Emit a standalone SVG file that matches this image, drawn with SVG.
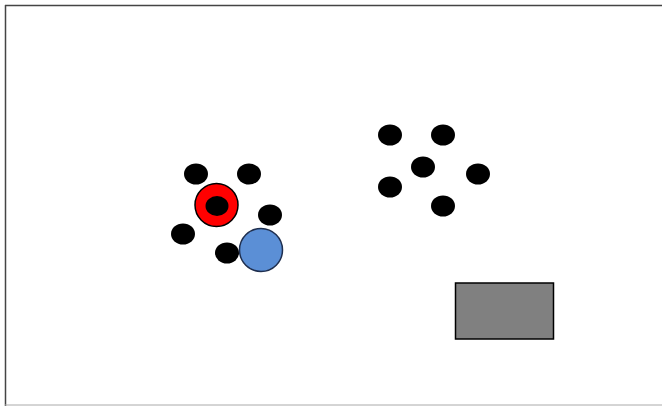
<svg xmlns="http://www.w3.org/2000/svg" width="662" height="406" viewBox="0 0 662 406">
<style>
.dot{fill:#000}
</style>
<rect x="0" y="0" width="662" height="406" fill="#fff"/>
<line x1="5" y1="5.5" x2="662" y2="5.5" stroke="#444" stroke-width="1.5"/>
<line x1="5.5" y1="5" x2="5.5" y2="406" stroke="#444" stroke-width="1.5"/>
<line x1="5" y1="405" x2="662" y2="405" stroke="#aaa" stroke-width="1"/>
<g id="left-cluster">
<ellipse class="dot" cx="196" cy="174" rx="12" ry="10.5"/>
<ellipse class="dot" cx="249" cy="174" rx="12" ry="10.5"/>
<ellipse class="dot" cx="270" cy="215" rx="12" ry="10.5"/>
<ellipse class="dot" cx="183" cy="234" rx="12" ry="10.5"/>
<ellipse class="dot" cx="227" cy="253" rx="12" ry="10.5"/>
</g>
<g id="red">
<circle cx="216.5" cy="205" r="21.5" fill="#ff0000" stroke="#000" stroke-width="1.5"/>
<ellipse class="dot" cx="217" cy="206" rx="11.5" ry="10"/>
</g>
<g id="blue">
<circle cx="261" cy="250" r="21.5" fill="#5b8fd6" stroke="#1f2f4f" stroke-width="1.5"/>
</g>
<g id="right-cluster">
<ellipse class="dot" cx="390" cy="135" rx="12" ry="10.5"/>
<ellipse class="dot" cx="443" cy="135" rx="12" ry="10.5"/>
<ellipse class="dot" cx="423" cy="167" rx="12" ry="10.5"/>
<ellipse class="dot" cx="478" cy="174" rx="12" ry="10.5"/>
<ellipse class="dot" cx="390" cy="187" rx="12" ry="10.5"/>
<ellipse class="dot" cx="443" cy="206" rx="12" ry="10.5"/>
</g>
<g id="box">
<rect x="455.5" y="283" width="98" height="56" fill="#808080" stroke="#000" stroke-width="1.5"/>
</g>
<g id="connectors"/>
</svg>
